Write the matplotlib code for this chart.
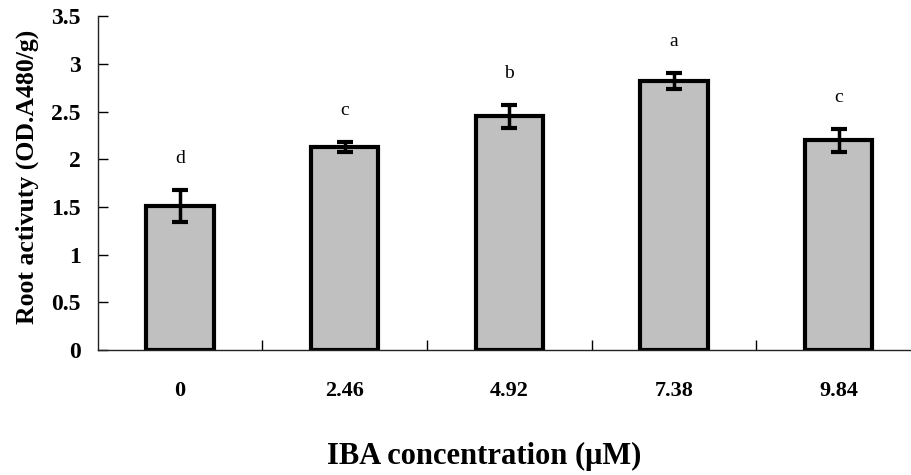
import matplotlib
matplotlib.use('Agg')
import matplotlib.pyplot as plt
import numpy as np

# data
concentrations = ['0', '2.46', '4.92', '7.38', '9.84']
root_activity = [1.51, 2.13, 2.45, 2.82, 2.20]
std_err = [0.17, 0.05, 0.12, 0.08, 0.12]
sig_letters = ['d', 'c', 'b', 'a', 'c']

plt.rcParams['font.family'] = ['Liberation Serif', 'DejaVu Serif']

fig = plt.figure(figsize=(9.12, 4.75), dpi=100)
ax = fig.add_axes([0.107, 0.263, 0.893, 0.703])

x = np.arange(len(concentrations))
ax.bar(x, root_activity, width=0.41, color='#C0C0C0', edgecolor='black',
       linewidth=3, zorder=2)
ax.errorbar(x, root_activity, yerr=std_err, fmt='none', ecolor='black',
            elinewidth=2.5, capsize=6, capthick=3, zorder=3)

for xi, val, err, lab in zip(x, root_activity, std_err, sig_letters):
    ax.text(xi, val + err + 0.33, lab, ha='center', va='center', fontsize=14)

ax.set_xlim(-0.5, 4.445)
ax.set_ylim(0, 3.5)
ax.set_yticks(np.arange(0, 3.51, 0.5))
ax.set_yticklabels(['0', '0.5', '1', '1.5', '2', '2.5', '3', '3.5'])
ax.set_xticks(x)
ax.set_xticklabels(concentrations)
ax.set_xticks(x[:-1] + 0.5, minor=True)

for sp in ['top', 'right']:
    ax.spines[sp].set_visible(False)
for sp in ['left', 'bottom']:
    ax.spines[sp].set_linewidth(1.0)
    ax.spines[sp].set_color('#222222')

ax.tick_params(axis='y', direction='in', length=7, width=1, pad=12,
               labelsize=17)
ax.tick_params(axis='x', which='major', length=0, pad=22, labelsize=16)
ax.tick_params(axis='x', which='minor', direction='in', length=7, width=1)
for t in ax.get_xticklabels() + ax.get_yticklabels():
    t.set_fontweight('bold')

ax.set_ylabel('Root activuty (OD.A480/g)', fontsize=18.5, fontweight='bold',
              labelpad=9)
ax.set_xlabel('IBA concentration (\u03bcM)', fontsize=22, fontweight='bold',
              labelpad=30)
ax.yaxis.label.set_y(0.52)
ax.xaxis.label.set_x(0.475)

fig.savefig('out.png', dpi=100)
